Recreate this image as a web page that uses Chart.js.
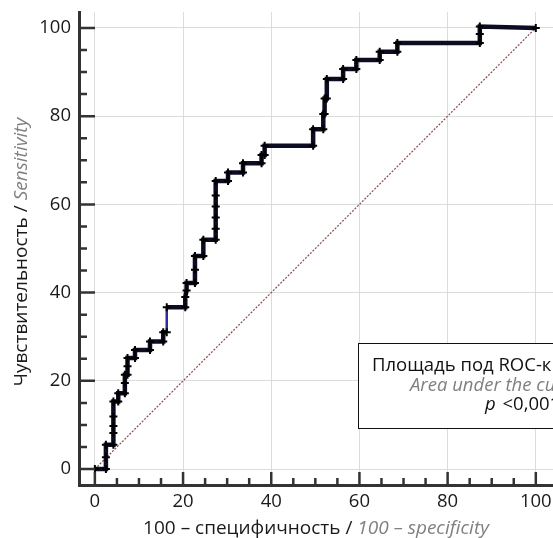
<!DOCTYPE html>
<html>
<head>
<meta charset="utf-8">
<script src="https://cdn.jsdelivr.net/npm/chart.js@4/dist/chart.umd.min.js"></script>
<style>
  html, body { margin: 0; padding: 0; background: #ffffff; }
  #wrap { width: 553px; height: 538px; position: relative; }
</style>
</head>
<body>
<div id="wrap"><canvas id="c" width="553" height="538"></canvas></div>
<script>
// ROC curve points: x = 100 - specificity, y = sensitivity
const rocX = [0, 2.5, 2.5, 2.5, 4.2, 4.2, 4.2, 4.2, 4.2, 5.3, 5.3, 6.8, 6.8, 6.8, 7.4, 7.4, 7.4, 9.1, 9.1, 12.5, 12.5, 15.5, 15.5, 16.3, 16.3,
  20.5, 20.5, 20.8, 20.8, 22.7, 22.7, 22.7, 24.6, 24.6, 27.4, 27.4, 27.4, 27.4, 27.4, 27.4, 30.2, 30.2, 33.6, 33.6,
  37.8, 37.8, 38.5, 38.5, 49.5, 49.5, 51.8, 51.8, 52.1, 52.1, 52.6, 52.6, 56.3, 56.3, 59.3, 59.3, 64.6, 64.6,
  68.6, 68.6, 87.3, 87.3, 87.3, 100];
const rocY = [0, 0, 2.7, 5.5, 5.5, 8.2, 9.8, 11.9, 15.3, 15.3, 17.2, 17.2, 19.5, 21.4, 21.4, 23.3, 25.2, 25.2, 27.0, 27.0, 28.9, 28.9, 31.0, 31.0, 36.7,
  36.7, 39.0, 40.5, 42.2, 42.2, 45.2, 48.3, 48.3, 52.0, 52.0, 54.5, 57.0, 59.5, 62.0, 65.3, 65.3, 67.2, 67.2, 69.3,
  69.3, 71.2, 71.2, 73.3, 73.3, 77.0, 77.0, 80.5, 80.5, 84.0, 84.0, 88.4, 88.4, 90.7, 90.7, 92.7, 92.7, 94.6,
  94.6, 96.6, 96.6, 98.6, 100.3, 100];
const refX = [0, 100];
const refY = [0, 100];
const xTicks = [0, 20, 40, 60, 80, 100];
const yTicks = [0, 20, 40, 60, 80, 100];
const minorTicks = [5, 10, 15, 25, 30, 35, 45, 50, 55, 65, 70, 75, 85, 90, 95];

const xTitleRuns = [
  { t: '100 – специфичность / ', italic: false, color: '#1a1a1a' },
  { t: '100 – specificity', italic: true, color: '#808080' }
];
const yTitleRuns = [
  { t: 'Чувствительность / ', italic: false, color: '#1a1a1a' },
  { t: 'Sensitivity', italic: true, color: '#808080' }
];
const boxLine1 = 'Площадь под ROC-кривой';
const boxLine2 = 'Area under the curve';
const boxLine3a = 'p';
const boxLine3b = ' <0,001';

const FONT = '"Open Sans", "Noto Sans", sans-serif';

function pts(xs, ys) { return xs.map((x, i) => ({ x: x, y: ys[i] })); }

function drawRuns(ctx, runs, x, y, size) {
  let total = 0;
  runs.forEach(r => {
    ctx.font = (r.italic ? 'italic ' : '') + size + 'px ' + FONT;
    r.w = ctx.measureText(r.t).width;
    total += r.w;
  });
  let cx = x - total / 2;
  runs.forEach(r => {
    ctx.font = (r.italic ? 'italic ' : '') + size + 'px ' + FONT;
    ctx.fillStyle = r.color;
    ctx.fillText(r.t, cx, y);
    cx += r.w;
  });
}

const decor = {
  id: 'decor',
  afterDatasetsDraw(chart) {
    const ctx = chart.ctx;
    const xs = chart.scales.x, ys = chart.scales.y;
    const ca = chart.chartArea;
    ctx.save();
    ctx.strokeStyle = '#333333';
    ctx.lineWidth = 2.5;
    ctx.beginPath();
    xTicks.forEach(v => { const px = xs.getPixelForValue(v); ctx.moveTo(px, ca.bottom); ctx.lineTo(px, ca.bottom - 13); });
    minorTicks.forEach(v => { const px = xs.getPixelForValue(v); ctx.moveTo(px, ca.bottom); ctx.lineTo(px, ca.bottom - 7); });
    yTicks.forEach(v => { const py = ys.getPixelForValue(v); ctx.moveTo(ca.left, py); ctx.lineTo(ca.left + 16, py); });
    minorTicks.forEach(v => { const py = ys.getPixelForValue(v); ctx.moveTo(ca.left, py); ctx.lineTo(ca.left + 8, py); });
    ctx.stroke();

    // annotation box
    const bx = 358, by = 343;
    ctx.fillStyle = '#ffffff';
    ctx.fillRect(bx, by, 260, 85);
    ctx.strokeStyle = '#111111';
    ctx.lineWidth = 1;
    ctx.strokeRect(bx + 0.5, by + 0.5, 260, 85);
    ctx.textBaseline = 'alphabetic';
    ctx.textAlign = 'left';
    ctx.font = '18.5px ' + FONT;
    ctx.fillStyle = '#111111';
    ctx.fillText(boxLine1, 372, 371);
    ctx.font = 'italic 18.5px ' + FONT;
    ctx.fillStyle = '#808080';
    ctx.fillText(boxLine2, 410, 391);
    ctx.font = 'italic 18.5px ' + FONT;
    ctx.fillStyle = '#111111';
    ctx.fillText(boxLine3a, 485, 410);
    const pw = ctx.measureText(boxLine3a).width;
    ctx.font = '18.5px ' + FONT;
    ctx.fillText(boxLine3b, 487 + pw, 410);

    // axis titles
    drawRuns(ctx, xTitleRuns, (ca.left + ca.right) / 2, 534, 19);
    ctx.translate(27, 252);
    ctx.rotate(-Math.PI / 2);
    drawRuns(ctx, yTitleRuns, 0, 0, 19);
    ctx.restore();
  }
};

new Chart(document.getElementById('c'), {
  type: 'scatter',
  data: {
    datasets: [
      {
        data: pts(refX, refY),
        showLine: true,
        borderColor: '#8a4a4a',
        borderWidth: 1.2,
        borderDash: [2, 1.5],
        pointRadius: 0,
        order: 2
      },
      {
        data: pts(rocX, rocY),
        showLine: true,
        borderColor: '#0c0c22',
        borderWidth: 4.5,
        segment: {
          borderColor: c => (c.p0.parsed.x === 16.3 && c.p1.parsed.x === 16.3) ? '#2e2e9a' : undefined,
          borderWidth: c => (c.p0.parsed.x === 16.3 && c.p1.parsed.x === 16.3) ? 2.5 : undefined
        },
        pointStyle: 'cross',
        pointRadius: 4,
        pointBorderWidth: 2,
        pointBorderColor: '#000000',
        pointBackgroundColor: '#000000',
        order: 1
      }
    ]
  },
  options: {
    responsive: false,
    animation: false,
    events: [],
    layout: { autoPadding: false, padding: { top: 12, right: 0, left: 0, bottom: 0 } },
    plugins: { legend: { display: false }, tooltip: { enabled: false } },
    scales: {
      x: {
        type: 'linear',
        min: -3.6,
        max: 103.9,
        afterFit(s) { s.height = 53; s.paddingLeft = 0; s.paddingRight = 0; },
        afterBuildTicks(s) { s.ticks = xTicks.map(v => ({ value: v })); },
        ticks: { padding: 6, color: '#1a1a1a', font: { family: FONT, size: 18.5 } },
        grid: { color: '#dcdcdc', lineWidth: 1, drawTicks: false },
        border: { display: true, color: '#333333', width: 3 }
      },
      y: {
        type: 'linear',
        min: -3.6,
        max: 103.6,
        afterFit(s) { s.width = 79; s.paddingTop = 0; s.paddingBottom = 0; },
        afterBuildTicks(s) { s.ticks = yTicks.map(v => ({ value: v })); },
        ticks: { padding: 8, color: '#1a1a1a', font: { family: FONT, size: 18.5 } },
        grid: { color: '#dcdcdc', lineWidth: 1, drawTicks: false },
        border: { display: true, color: '#333333', width: 3 }
      }
    }
  },
  plugins: [decor]
});
</script>
</body>
</html>
